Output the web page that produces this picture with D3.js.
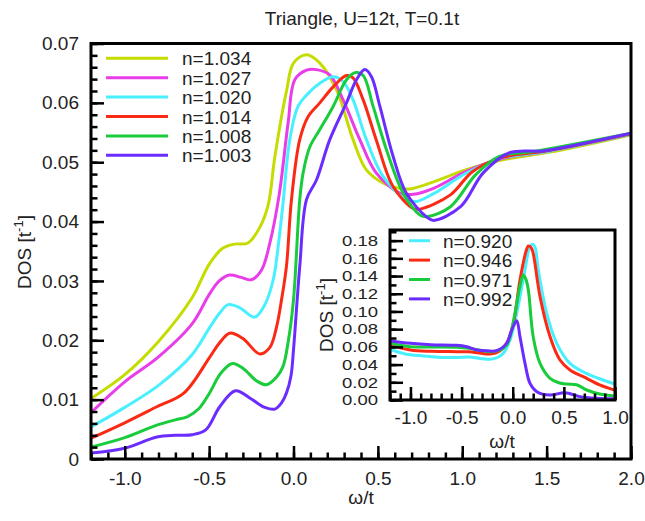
<!DOCTYPE html>
<html>
<head>
<meta charset="utf-8">
<script src="https://cdn.jsdelivr.net/npm/d3@7"></script>
<style>
  body { margin: 0; background: #fff; }
  text { font-family: "Liberation Sans", Arial, sans-serif; fill: #222; }
</style>
</head>
<body>
<script>
// ---- data ----
var mainLabels = ["n=1.034", "n=1.027", "n=1.020", "n=1.014", "n=1.008", "n=1.003"];
var mainColors = ["#c5dc00", "#e83de8", "#48f0ff", "#fa2a14", "#19cc3c", "#6b2dff"];

var dos1034 = [[-1.2, 0.0102], [-1.0, 0.0142], [-0.8, 0.0198], [-0.6, 0.0272], [-0.5, 0.0328], [-0.42, 0.0355],
    [-0.35, 0.0362], [-0.27, 0.0364], [-0.2, 0.039], [-0.15, 0.0428], [-0.11, 0.051], [-0.04, 0.0622], [0.0, 0.0667],
    [0.077, 0.0681], [0.156, 0.0667], [0.255, 0.0622], [0.353, 0.0538], [0.432, 0.0487], [0.53, 0.0465], [0.63, 0.0456],
    [0.69, 0.0455], [0.83, 0.0467], [1.02, 0.0487], [1.22, 0.0503], [1.52, 0.0517], [2.0, 0.0546]];
var dos1027 = [[-1.2, 0.0078], [-1.0, 0.013], [-0.8, 0.0172], [-0.6, 0.0228], [-0.5, 0.0277], [-0.44, 0.03],
    [-0.38, 0.031], [-0.31, 0.0306], [-0.25, 0.0302], [-0.19, 0.0318], [-0.14, 0.0364], [-0.085, 0.0445], [-0.032, 0.0566],
    [0.008, 0.0639], [0.077, 0.0655], [0.136, 0.0656], [0.215, 0.0647], [0.294, 0.0605], [0.393, 0.0538], [0.49, 0.0482],
    [0.63, 0.0448], [0.71, 0.0446], [0.83, 0.0456], [1.02, 0.0484], [1.22, 0.0505], [1.52, 0.0519], [2.0, 0.0547]];
var dos1020 = [[-1.2, 0.0054], [-1.0, 0.0087], [-0.8, 0.0124], [-0.6, 0.0176], [-0.5, 0.022], [-0.44, 0.0245],
    [-0.387, 0.026], [-0.32, 0.0255], [-0.23, 0.0239], [-0.17, 0.026], [-0.12, 0.0302], [-0.09, 0.036], [-0.062, 0.0431],
    [-0.022, 0.0538], [0.027, 0.0594], [0.087, 0.0616], [0.156, 0.0633], [0.235, 0.0644], [0.294, 0.0636], [0.353, 0.0605],
    [0.432, 0.0538], [0.531, 0.0476], [0.668, 0.0437], [0.73, 0.0434], [0.83, 0.0447], [1.02, 0.0481], [1.22, 0.0506],
    [1.52, 0.0519], [2.0, 0.0547]];
var dos1014 = [[-1.2, 0.0035], [-1.0, 0.0061], [-0.81, 0.0088], [-0.65, 0.0111], [-0.5, 0.017], [-0.44, 0.0195],
    [-0.378, 0.0212], [-0.3, 0.0203], [-0.2, 0.0177], [-0.14, 0.0188], [-0.1, 0.0223], [-0.07, 0.027], [-0.042, 0.0324],
    [-0.012, 0.0437], [0.037, 0.0538], [0.087, 0.0577], [0.156, 0.06], [0.235, 0.0627], [0.314, 0.0646], [0.353, 0.0642],
    [0.413, 0.0605], [0.49, 0.0538], [0.59, 0.0459], [0.709, 0.0422], [0.75, 0.0421], [0.93, 0.0445], [1.06, 0.0484],
    [1.22, 0.0507], [1.52, 0.052], [2.0, 0.0548]];
var dos1008 = [[-1.2, 0.002], [-1.0, 0.0036], [-0.81, 0.0057], [-0.7, 0.0066], [-0.63, 0.0071], [-0.56, 0.0085],
    [-0.5, 0.011], [-0.43, 0.0145], [-0.362, 0.0161], [-0.3, 0.0153], [-0.22, 0.0132], [-0.16, 0.0125], [-0.1, 0.0138],
    [-0.062, 0.0156], [-0.03, 0.02], [0.0, 0.0268], [0.037, 0.0437], [0.057, 0.0482], [0.097, 0.0526], [0.156, 0.0555],
    [0.235, 0.0594], [0.314, 0.0639], [0.369, 0.0651], [0.413, 0.0646], [0.472, 0.0594], [0.551, 0.0521], [0.65, 0.0448],
    [0.749, 0.0411], [0.79, 0.0408], [0.93, 0.0425], [1.08, 0.0479], [1.22, 0.051], [1.42, 0.0518], [2.0, 0.0549]];
var dos1003 = [[-1.2, 0.001], [-1.0, 0.0018], [-0.81, 0.0037], [-0.7, 0.004], [-0.6, 0.0041], [-0.52, 0.0049],
    [-0.437, 0.0088], [-0.344, 0.0115], [-0.25, 0.0101], [-0.17, 0.0087], [-0.111, 0.0084], [-0.07, 0.0095],
    [-0.042, 0.0111], [-0.015, 0.014], [0.0, 0.0184], [0.037, 0.0324], [0.077, 0.0437], [0.136, 0.047], [0.215, 0.0538],
    [0.314, 0.06], [0.373, 0.0639], [0.423, 0.0656], [0.462, 0.0644], [0.512, 0.0594], [0.59, 0.051], [0.668, 0.0448],
    [0.788, 0.0408], [0.83, 0.0402], [0.99, 0.0425], [1.124, 0.0482], [1.28, 0.0516], [1.48, 0.0519], [1.62, 0.0526],
    [2.0, 0.0549]];
var mainData = [dos1034, dos1027, dos1020, dos1014, dos1008, dos1003];

var insetLabels = ["n=0.920", "n=0.946", "n=0.971", "n=0.992"];
var insetColors = ["#48f0ff", "#fa2a14", "#19cc3c", "#6b2dff"];

var dos0920 = [[-1.2, 0.057], [-1.05, 0.052], [-0.87, 0.0497], [-0.7, 0.048], [-0.55, 0.048], [-0.43, 0.0486],
    [-0.32, 0.047], [-0.22, 0.046], [-0.15, 0.048], [-0.09, 0.053], [-0.026, 0.068], [0.039, 0.098], [0.12, 0.147],
    [0.165, 0.172], [0.195, 0.176], [0.22, 0.172], [0.25, 0.1468], [0.332, 0.098], [0.43, 0.064], [0.56, 0.0414],
    [0.72, 0.03], [0.85, 0.024], [1.0, 0.018]];
var dos0946 = [[-1.2, 0.0622], [-1.0, 0.0565], [-0.8, 0.055], [-0.55, 0.0546], [-0.43, 0.0545], [-0.22, 0.052],
    [-0.13, 0.055], [-0.059, 0.064], [0.006, 0.0866], [0.071, 0.1355], [0.13, 0.168], [0.153, 0.174], [0.18, 0.172],
    [0.2, 0.1657], [0.267, 0.1167], [0.365, 0.0715], [0.462, 0.0452], [0.56, 0.0339], [0.69, 0.0263], [0.85, 0.017],
    [1.0, 0.011]];
var dos0971 = [[-1.2, 0.064], [-1.0, 0.0602], [-0.8, 0.0598], [-0.55, 0.0595], [-0.43, 0.0584], [-0.22, 0.0546],
    [-0.12, 0.0565], [-0.06, 0.062], [-0.026, 0.0715], [0.022, 0.098], [0.07, 0.128], [0.104, 0.1412], [0.13, 0.136],
    [0.153, 0.124], [0.2, 0.0715], [0.267, 0.0414], [0.365, 0.0245], [0.45, 0.0195], [0.53, 0.018], [0.625, 0.0173],
    [0.723, 0.0113], [0.85, 0.0068], [1.0, 0.0045]];
var dos0992 = [[-1.2, 0.0666], [-1.0, 0.064], [-0.8, 0.0625], [-0.55, 0.0618], [-0.45, 0.0602], [-0.35, 0.0565],
    [-0.25, 0.0555], [-0.16, 0.0557], [-0.06, 0.064], [-0.01, 0.079], [0.039, 0.0896], [0.071, 0.0715], [0.12, 0.0414],
    [0.169, 0.0188], [0.235, 0.0094], [0.365, 0.0056], [0.511, 0.0083], [0.658, 0.0038], [0.82, 0.002], [1.0, 0.0015]];
var insetData = [dos0920, dos0946, dos0971, dos0992];

var mainXTicks = [-1.0, -0.5, 0.0, 0.5, 1.0, 1.5, 2.0];
var mainYTicks = [0, 0.01, 0.02, 0.03, 0.04, 0.05, 0.06, 0.07];
var insetXTicks = [-1.0, -0.5, 0.0, 0.5, 1.0];
var insetYTicks = [0, 0.02, 0.04, 0.06, 0.08, 0.10, 0.12, 0.14, 0.16, 0.18];

// ---- layout ----
var W = 645, H = 521;
var fs = 19;
var svg = d3.select("body").append("svg").attr("width", W).attr("height", H);

var box = {left: 91, right: 631, top: 43.5, bottom: 459};
var ibox = {left: 390, right: 615, top: 230, bottom: 400};

var x = d3.scaleLinear().domain([-1.2, 2.0]).range([box.left, box.right]);
var y = d3.scaleLinear().domain([0, 0.07]).range([box.bottom, box.top]);
var xi = d3.scaleLinear().domain([-1.2, 1.0]).range([ibox.left, ibox.right]);
var yi = d3.scaleLinear().domain([0, 0.192]).range([ibox.bottom, ibox.top]);

function drawAxes(g, bx, xs, ys, xMaj, yMaj, xMin, yMin, xFmt, yFmt, xPad) {
    // minor ticks
    g.append("g")
        .attr("transform", "translate(0," + bx.bottom + ")")
        .call(d3.axisBottom(xs).tickValues(xMin).tickSize(-6.5).tickFormat(""));
    g.append("g")
        .attr("transform", "translate(" + bx.left + ",0)")
        .call(d3.axisLeft(ys).tickValues(yMin).tickSize(-6.5).tickFormat(""));
    // major ticks + labels
    g.append("g")
        .attr("transform", "translate(0," + bx.bottom + ")")
        .call(d3.axisBottom(xs).tickValues(xMaj).tickSize(-13).tickPadding(xPad).tickFormat(xFmt));
    var ya = g.append("g")
        .attr("transform", "translate(" + bx.left + ",0)")
        .call(d3.axisLeft(ys).tickValues(yMaj).tickSize(-13).tickPadding(12).tickFormat(yFmt));
    g.selectAll(".domain").remove();
    g.selectAll(".tick line").attr("stroke", "#000").attr("stroke-width", 2.5);
    g.selectAll(".tick text").attr("font-size", fs).attr("font-family", null).attr("fill", "#222");
    // frame
    g.append("rect")
        .attr("x", bx.left).attr("y", bx.top)
        .attr("width", bx.right - bx.left).attr("height", bx.bottom - bx.top)
        .attr("fill", "none").attr("stroke", "#000").attr("stroke-width", 3);
    return ya;
}

function drawLegend(g, labels, colors, x0, x1, xt, y0) {
    labels.forEach(function (lab, i) {
        var yy = y0 + i * 19.4;
        g.append("line").attr("x1", x0).attr("x2", x1).attr("y1", yy).attr("y2", yy)
            .attr("stroke", colors[i]).attr("stroke-width", 3);
        g.append("text").attr("x", xt).attr("y", yy + 7).attr("font-size", fs).text(lab);
    });
}

function dosLabel(g, cx, cy) {
    var t = g.append("text")
        .attr("transform", "translate(" + cx + "," + cy + ") rotate(-90)")
        .attr("text-anchor", "middle")
        .attr("font-size", fs);
    t.append("tspan").text("DOS [t");
    t.append("tspan").attr("font-size", 13).attr("dy", -8).text("-1");
    t.append("tspan").attr("dy", 8).text("]");
}

var minX = d3.range(-12, 21).map(function (i) { return i / 10; });
var minY = d3.range(0, 36).map(function (i) { return i * 0.002; });
var minXi = d3.range(-12, 11).map(function (i) { return i / 10; });
var minYi = d3.range(0, 20).map(function (i) { return i * 0.01; });

// ---- main plot ----
svg.append("clipPath").attr("id", "clipMain").append("rect")
    .attr("x", box.left).attr("y", box.top)
    .attr("width", box.right - box.left).attr("height", box.bottom - box.top);

var line = d3.line().x(function (d) { return x(d[0]); }).y(function (d) { return y(d[1]); })
    .curve(d3.curveCatmullRom.alpha(0.5));

svg.append("g").attr("clip-path", "url(#clipMain)")
    .selectAll("path").data(mainData).enter().append("path")
    .attr("d", line)
    .attr("fill", "none")
    .attr("stroke", function (d, i) { return mainColors[i]; })
    .attr("stroke-width", 3);

var gMain = svg.append("g");
drawAxes(gMain, box, x, y, mainXTicks, mainYTicks, minX, minY,
    function (d) { return d.toFixed(1); },
    function (d) { return d === 0 ? "0" : d.toFixed(2); }, 13);

drawLegend(svg.append("g"), mainLabels, mainColors, 106, 168, 182, 58.3);

svg.append("text").attr("x", 362).attr("y", 25).attr("text-anchor", "middle")
    .attr("font-size", fs).text("Triangle, U=12t, T=0.1t");
svg.append("text").attr("x", 361).attr("y", 504).attr("text-anchor", "middle")
    .attr("font-size", fs).text("ω/t");
dosLabel(svg, 31, 252);

// ---- inset ----
var gIn = svg.append("g");
gIn.append("rect")
    .attr("x", ibox.left).attr("y", ibox.top)
    .attr("width", ibox.right - ibox.left).attr("height", ibox.bottom - ibox.top)
    .attr("fill", "#fff");

svg.append("clipPath").attr("id", "clipIn").append("rect")
    .attr("x", ibox.left).attr("y", ibox.top)
    .attr("width", ibox.right - ibox.left).attr("height", ibox.bottom - ibox.top);

var lineIn = d3.line().x(function (d) { return xi(d[0]); }).y(function (d) { return yi(d[1]); })
    .curve(d3.curveCatmullRom.alpha(0.5));

gIn.append("g").attr("clip-path", "url(#clipIn)")
    .selectAll("path").data(insetData).enter().append("path")
    .attr("d", lineIn)
    .attr("fill", "none")
    .attr("stroke", function (d, i) { return insetColors[i]; })
    .attr("stroke-width", 3);

var insetY = drawAxes(gIn.append("g"), ibox, xi, yi, insetXTicks, insetYTicks, minXi, minYi,
    function (d) { return d.toFixed(1); },
    function (d) { return d.toFixed(2); }, 11);
// tightly packed labels: smaller glyphs, stretched to the reference width
insetY.selectAll(".tick text")
    .attr("font-size", 15)
    .attr("textLength", 36)
    .attr("lengthAdjust", "spacingAndGlyphs");

drawLegend(gIn.append("g"), insetLabels, insetColors, 409, 430, 443, 240.7);

gIn.append("text").attr("x", 502).attr("y", 448).attr("text-anchor", "middle")
    .attr("font-size", fs).text("ω/t");
dosLabel(gIn, 333, 315);
</script>
</body>
</html>
